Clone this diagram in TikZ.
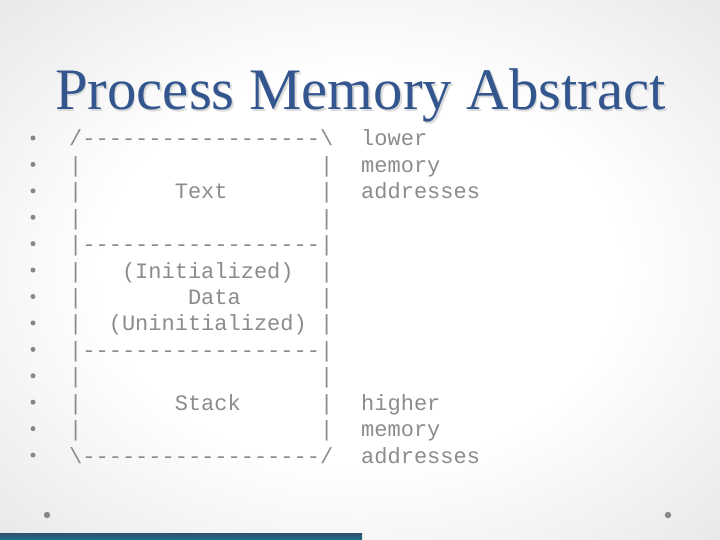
\documentclass[tikz,border=0pt]{standalone}
\usepackage{fontspec}
\setmainfont{Liberation Serif}
\newfontfamily\monofont{Liberation Mono}
\definecolor{titleblue}{RGB}{52,86,143}
\definecolor{monogray}{RGB}{140,140,140}
\definecolor{bulletgray}{RGB}{135,135,135}
\definecolor{bgedge}{RGB}{214,214,214}
\definecolor{bartop}{RGB}{52,78,112}
\definecolor{barbot}{RGB}{25,112,135}
\pgfdeclareradialshading{slidebg}{\pgfpoint{0bp}{0bp}}{color(0bp)=(white); color(18bp)=(white); color(50bp)=(bgedge); color(75bp)=(bgedge!90!black)}
\begin{document}
\begin{tikzpicture}[x=1pt,y=-1pt,
  mono/.style={font=\monofont\fontsize{22}{24}\selectfont, text=monogray, inner sep=0pt, anchor=base west},
  titlestyle/.style={font=\fontsize{58.8}{60}\selectfont, inner sep=0pt, anchor=base west},
  bulletdot/.style={fill=bulletgray, draw=none}]
\useasboundingbox (0,0) rectangle (720,540);
\shade[shading=slidebg] (0,0) rectangle (720,540);
% title
\node[titlestyle, text=gray!28] (titleshadow) at (56.5,111.5) {Process Memory Abstract};
\node[titlestyle, text=titleblue] (title) at (55,110) {Process Memory Abstract};
% rows
\foreach \i/\txt in {0/{/------------------\textbackslash},
                     1/{|~~~~~~~~~~~~~~~~~~|},
                     2/{|~~~~~~~Text~~~~~~~|},
                     3/{|~~~~~~~~~~~~~~~~~~|},
                     4/{|------------------|},
                     5/{|~~~(Initialized)~~|},
                     6/{|~~~~~~~~Data~~~~~~|},
                     7/{|~~(Uninitialized)~|},
                     8/{|------------------|},
                     9/{|~~~~~~~~~~~~~~~~~~|},
                     10/{|~~~~~~~Stack~~~~~~|},
                     11/{|~~~~~~~~~~~~~~~~~~|},
                     12/{\textbackslash------------------/}} {
  \fill[bulletdot] (33,{138+26.42*\i}) circle (2.5);
  \node[mono] (row\i) at (69,{146+26.42*\i}) {\txt};
}
\node[mono] (low1) at (361,146) {lower};
\node[mono] (low2) at (361,{146+26.42}) {memory};
\node[mono] (low3) at (361,{146+2*26.42}) {addresses};
\node[mono] (high1) at (361,{146+10*26.42}) {higher};
\node[mono] (high2) at (361,{146+11*26.42}) {memory};
\node[mono] (high3) at (361,{146+12*26.42}) {addresses};
% footer
\fill[bulletdot] (47,515) circle (3.2);
\fill[bulletdot] (668,515) circle (3.2);
\shade[top color=bartop, bottom color=barbot] (0,533) rectangle (362,540);
\end{tikzpicture}
\end{document}
